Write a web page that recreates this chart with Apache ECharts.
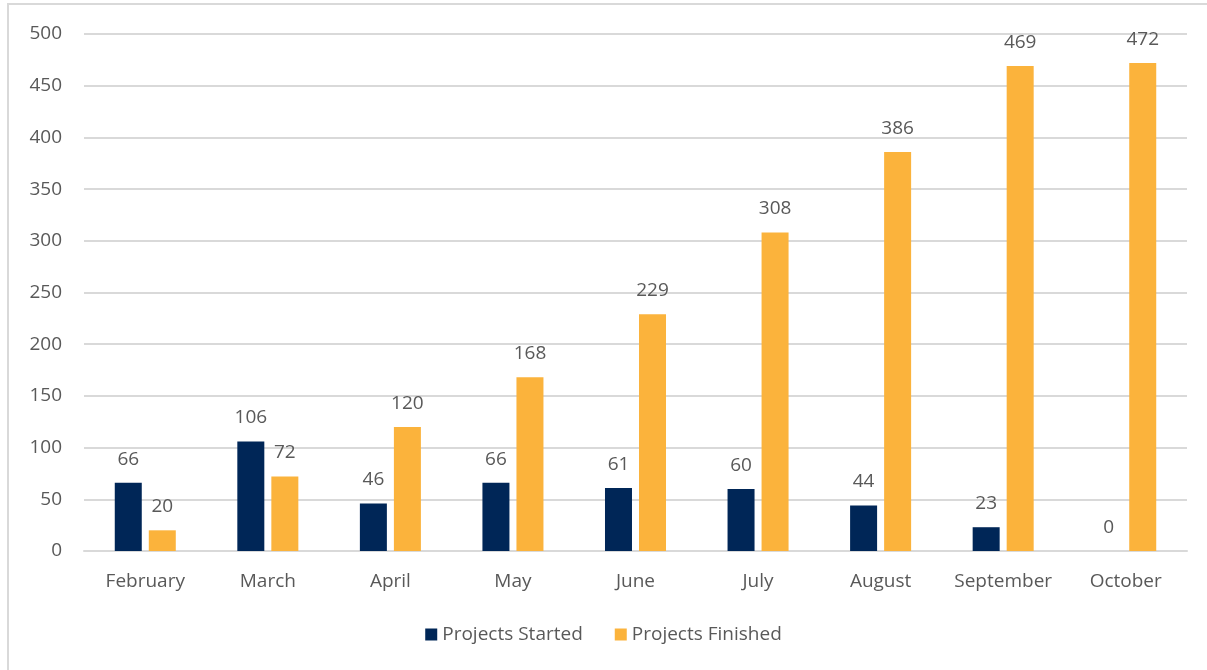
<!DOCTYPE html>
<html>
<head>
<meta charset="utf-8">
<script src="https://cdn.jsdelivr.net/npm/echarts@6/dist/echarts.min.js"></script>
<style>
  html, body { margin: 0; padding: 0; background: #fff; }
  #frame { position: absolute; left: 7px; top: 3px; width: 1200px; height: 667px;
           border-left: 2px solid #d9d9d9; border-top: 2px solid #d9d9d9; }
  #main { position: absolute; left: 0; top: 0; width: 1207px; height: 670px; }
</style>
</head>
<body>
<div id="frame"></div>
<div id="main"></div>
<script>
// data
var months = ["February", "March", "April", "May", "June", "July", "August", "September", "October"];
var started = [66, 106, 46, 66, 61, 60, 44, 23, 0];
var finished = [20, 72, 120, 168, 229, 308, 386, 469, 472];

var txt = "#595959",
  font = "'Open Sans', 'Noto Sans', sans-serif",
  fs = 19;

var myChart = echarts.init(document.getElementById("main"));
var option = {
  animation: false,
  textStyle: { fontFamily: font },
  grid: { left: 84, right: 20, top: 34, bottom: 119, containLabel: false },
  legend: {
    data: ["Projects Started", "Projects Finished"],
    bottom: 21,
    left: "center",
    icon: "rect",
    itemWidth: 12,
    itemHeight: 12,
    itemGap: 32,
    textStyle: { color: txt, fontSize: fs, fontFamily: font }
  },
  xAxis: {
    type: "category",
    data: months,
    axisLine: { show: true, lineStyle: { color: "#d9d9d9", width: 2 } },
    axisTick: { show: false },
    axisLabel: { color: txt, fontSize: fs, margin: 21, interval: 0, fontFamily: font }
  },
  yAxis: {
    type: "value",
    min: 0,
    max: 500,
    interval: 50,
    axisLine: { show: false },
    axisTick: { show: false },
    splitLine: { lineStyle: { color: "#d9d9d9", width: 2 } },
    axisLabel: { color: txt, fontSize: fs, margin: 22, fontFamily: font }
  },
  series: [
    {
      name: "Projects Started",
      type: "bar",
      data: started,
      barWidth: 27,
      barGap: "26%",
      itemStyle: { color: "#002657" },
      label: { show: true, position: "top", distance: 14, color: txt, fontSize: fs, fontFamily: font }
    },
    {
      name: "Projects Finished",
      type: "bar",
      data: finished,
      barWidth: 27,
      itemStyle: { color: "#fbb33c" },
      label: { show: true, position: "top", distance: 14, color: txt, fontSize: fs, fontFamily: font }
    }
  ]
};
myChart.setOption(option);
</script>
</body>
</html>
